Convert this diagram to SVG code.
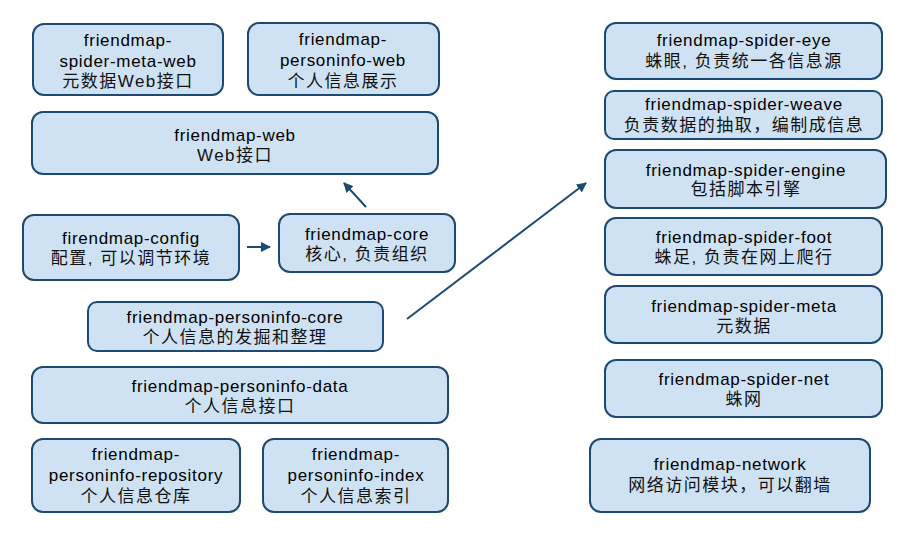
<svg xmlns="http://www.w3.org/2000/svg" width="911" height="535" viewBox="0 0 911 535">
<style>
.box{fill:#cfe2f3;stroke:#1d4a72;stroke-width:2}
.en{font-family:"Liberation Sans",Arial,sans-serif;font-size:17px;letter-spacing:0.7px;fill:#000;text-anchor:middle}
.zh{font-family:"Liberation Sans","Noto Sans CJK SC",sans-serif;font-size:17px;letter-spacing:1.5px;fill:#111;text-anchor:middle}
.conn{stroke:#1d4a72;stroke-width:2;fill:none}
</style>
<defs>
<marker id="ah" viewBox="0 0 10 10" refX="9" refY="5" markerWidth="5" markerHeight="5" orient="auto" markerUnits="strokeWidth">
<path d="M0,0 L10,5 L0,10 z" fill="#1d4a72"/>
</marker>
</defs>
<g id="spider-meta-web"><rect class="box" x="33" y="24" width="190" height="71" rx="11"/>
<text class="en" x="128" y="46">friendmap-</text><text class="en" x="128" y="67">spider-meta-web</text><text class="zh" x="128" y="87">元数据Web接口</text></g>
<g id="personinfo-web"><rect class="box" x="248" y="23" width="191" height="72" rx="11"/>
<text class="en" x="343" y="45">friendmap-</text><text class="en" x="343" y="66">personinfo-web</text><text class="zh" x="343" y="87">个人信息展示</text></g>
<g id="friendmap-web"><rect class="box" x="32" y="112" width="406" height="62" rx="11"/>
<text class="en" x="235" y="141">friendmap-web</text><text class="zh" x="235" y="161">Web接口</text></g>
<g id="config"><rect class="box" x="23" y="215" width="216" height="65" rx="11"/>
<text class="en" x="131" y="244">firendmap-config</text><text class="zh" x="131" y="264">配置, 可以调节环境</text></g>
<g id="core"><rect class="box" x="279" y="214" width="176" height="58" rx="11"/>
<text class="en" x="367" y="240">friendmap-core</text><text class="zh" x="367" y="260">核心, 负责组织</text></g>
<g id="personinfo-core"><rect class="box" x="88" y="302" width="295" height="49" rx="9"/>
<text class="en" x="235" y="323">friendmap-personinfo-core</text><text class="zh" x="235" y="343">个人信息的发掘和整理</text></g>
<g id="personinfo-data"><rect class="box" x="32" y="367" width="416" height="56" rx="11"/>
<text class="en" x="240" y="392">friendmap-personinfo-data</text><text class="zh" x="240" y="412">个人信息接口</text></g>
<g id="personinfo-repository"><rect class="box" x="32" y="439" width="208" height="73" rx="11"/>
<text class="en" x="136" y="460">friendmap-</text><text class="en" x="136" y="481">personinfo-repository</text><text class="zh" x="136" y="502">个人信息仓库</text></g>
<g id="personinfo-index"><rect class="box" x="263" y="439" width="185" height="73" rx="11"/>
<text class="en" x="356" y="460">friendmap-</text><text class="en" x="356" y="481">personinfo-index</text><text class="zh" x="356" y="502">个人信息索引</text></g>
<g id="spider-eye"><rect class="box" x="605" y="23" width="277" height="56" rx="11"/>
<text class="en" x="744" y="46">friendmap-spider-eye</text><text class="zh" x="744" y="67">蛛眼, 负责统一各信息源</text></g>
<g id="spider-weave"><rect class="box" x="605" y="91" width="277" height="48" rx="9"/>
<text class="en" x="744" y="110">friendmap-spider-weave</text><text class="zh" x="744" y="131">负责数据的抽取，编制成信息</text></g>
<g id="spider-engine"><rect class="box" x="605" y="150" width="281" height="58" rx="11"/>
<text class="en" x="746" y="176">friendmap-spider-engine</text><text class="zh" x="746" y="195">包括脚本引擎</text></g>
<g id="spider-foot"><rect class="box" x="605" y="218" width="277" height="57" rx="11"/>
<text class="en" x="744" y="243">friendmap-spider-foot</text><text class="zh" x="744" y="263">蛛足, 负责在网上爬行</text></g>
<g id="spider-meta"><rect class="box" x="605" y="286" width="277" height="57" rx="11"/>
<text class="en" x="744" y="312">friendmap-spider-meta</text><text class="zh" x="744" y="332">元数据</text></g>
<g id="spider-net"><rect class="box" x="605" y="360" width="277" height="57" rx="11"/>
<text class="en" x="744" y="385">friendmap-spider-net</text><text class="zh" x="744" y="405">蛛网</text></g>
<g id="network"><rect class="box" x="590" y="439" width="280" height="73" rx="11"/>
<text class="en" x="730" y="470">friendmap-network</text><text class="zh" x="730" y="491">网络访问模块，可以翻墙</text></g>
<g id="connectors">
<line class="conn" x1="247" y1="247" x2="270" y2="247" marker-end="url(#ah)"/>
<line class="conn" x1="366" y1="207" x2="344" y2="183" marker-end="url(#ah)"/>
<line class="conn" x1="407" y1="319" x2="586" y2="183" marker-end="url(#ah)"/>
</g>
</svg>
